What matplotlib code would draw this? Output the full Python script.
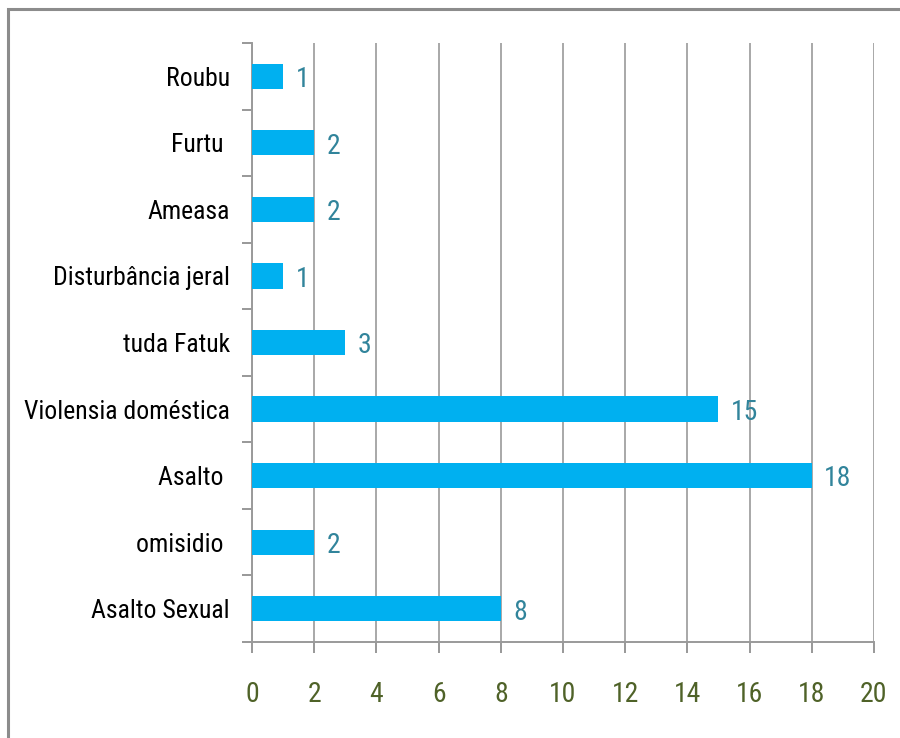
import matplotlib
matplotlib.use("Agg")
import matplotlib.pyplot as plt
from matplotlib.patches import Rectangle
from matplotlib import font_manager

# categories top to bottom, with counts
categories = ["Roubu", "Furtu ", "Ameasa", "Disturbância jeral", "tuda Fatuk",
              "Violensia doméstica", "Asalto ", "omisidio ", "Asalto Sexual"]
counts = [1, 2, 2, 1, 3, 15, 18, 2, 8]
x_ticks = [0, 2, 4, 6, 8, 10, 12, 14, 16, 18, 20]

installed = {f.name for f in font_manager.fontManager.ttflist}
condensed = [f for f in ["Liberation Sans Narrow", "Roboto Condensed",
                         "Open Sans Condensed", "Noto Sans Condensed",
                         "DejaVu Sans Condensed"] if f in installed]
if condensed:
    family, fs_cat, fs_num = condensed[0], 18.5, 20
else:
    family, fs_cat, fs_num = "Liberation Sans", 16.5, 17
plt.rcParams["font.family"] = [family, "DejaVu Sans"]

fig = plt.figure(figsize=(9, 7.38), dpi=100)
ax = fig.add_axes([0.28, 0.1301, 0.6911, 0.8116])

n = len(categories)
ypos = list(range(n - 1, -1, -1))
ax.barh(ypos, counts, height=0.38, color="#00B0F0", zorder=3)

for y, v in zip(ypos, counts):
    ax.text(v + 0.4, y - 0.05, str(v), va="center", ha="left", fontsize=fs_num,
            color="#31849B", zorder=4)

ax.set_xlim(0, 20)
ax.set_ylim(-0.5, n - 0.5)
ax.set_xticks(x_ticks)
ax.set_xticklabels([str(t) for t in x_ticks], fontsize=fs_num, color="#4F6228")
ax.tick_params(axis="x", length=8, color="#868686", width=1.2, pad=20)

ax.set_yticks(ypos)
ax.set_yticklabels(categories, fontsize=fs_cat, color="black")
ax.tick_params(axis="y", length=0, pad=16)
ax.set_yticks([i - 0.5 for i in range(n + 1)], minor=True)
ax.tick_params(axis="y", which="minor", length=7, color="#868686", width=1.2)

ax.grid(axis="x", color="#9a9a9a", linewidth=1.2, zorder=0)
for s in ["top", "right"]:
    ax.spines[s].set_visible(False)
for s in ["left", "bottom"]:
    ax.spines[s].set_color("#9a9a9a")
    ax.spines[s].set_linewidth(1.4)

# outer frame of the chart area (left and top edges visible)
fig.patches.append(Rectangle((8 / 900, -0.1), 1.2, 1.1 - 9 / 738,
                             transform=fig.transFigure, fill=False,
                             edgecolor="#8c8c8c", linewidth=2.2))

fig.savefig("out.png", dpi=100)
